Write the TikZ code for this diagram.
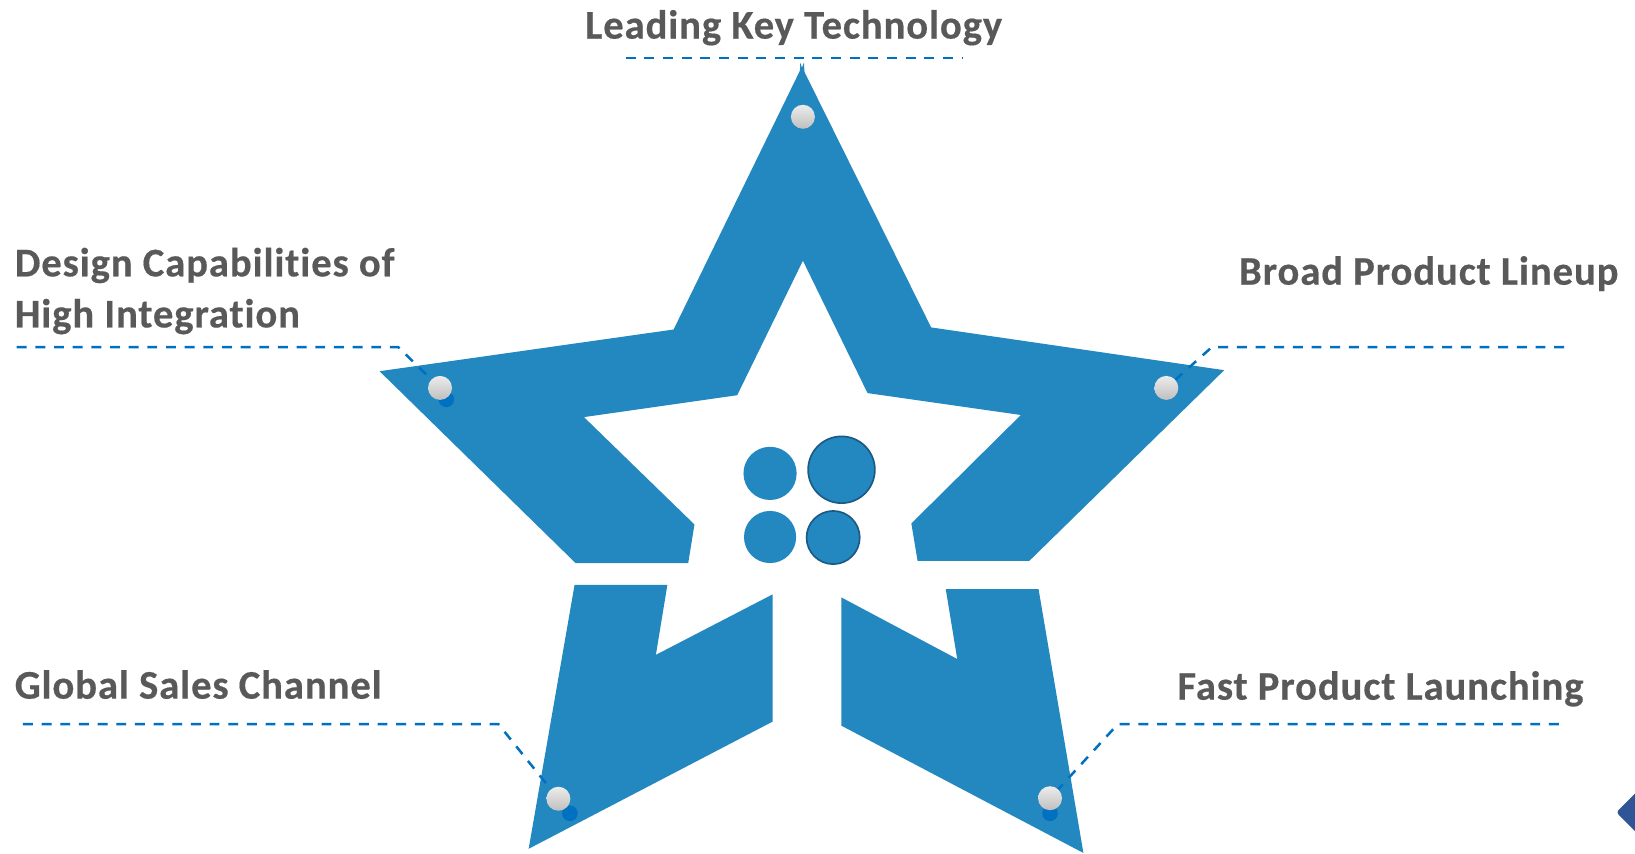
\documentclass[tikz,border=0pt]{standalone}
\usepackage{fontspec}
\setmainfont[LetterSpace=2.2,Ligatures=NoCommon,BoldFeatures={FakeBold=0.4}]{Carlito}
\definecolor{starblue}{HTML}{2288BF}
\definecolor{linkblue}{HTML}{0070C0}
\definecolor{ringblue}{HTML}{1B5A86}
\definecolor{labelgrey}{HTML}{595959}
\definecolor{tagblue}{HTML}{2F5597}
\tikzset{
  starpart/.style={fill=starblue,draw=none},
  blob/.style={circle,fill=starblue,draw=none,inner sep=0pt,minimum size=#1},
  ringblob/.style={circle,fill=starblue,draw=ringblue,line width=1.6pt,inner sep=0pt,minimum size=#1},
  leader/.style={draw=linkblue,line width=2.4pt,dash pattern=on 9.5pt off 8.4pt},
  pearl/.style={circle,inner sep=0pt,minimum size=23pt,top color=gray!15,bottom color=gray!50,draw=none},
  under/.style={circle,inner sep=0pt,minimum size=15pt,fill=linkblue,draw=none},
  caption/.style={font=\fontsize{39}{49}\selectfont\bfseries,text=labelgrey,inner sep=0pt,align=left}
}
\begin{document}
\begin{tikzpicture}[x=1pt,y=-1pt]
\useasboundingbox (0,0) rectangle (1568,819);
\fill[white] (0,0) rectangle (1568,819);
% star
\fill[starpart] (769,64) -- (893,314) -- (1174,355) -- (987,538) -- (880,538) -- (874,502) -- (979,398) -- (832,377) -- (770,250) -- (707,379) -- (560,400) -- (666,503) -- (660,540) -- (552,540) -- (364,356) -- (646,316) -- cycle;
\fill[starpart] (767.5,60) -- (769,65) -- (771,60) -- (771.5,70) -- (767,70) -- cycle;
\fill[starpart] (551,561) -- (640,561) -- (629,628) -- (741,570) -- (741,692) -- (507,814) -- cycle;
\fill[starpart] (907,565) -- (996,565) -- (1039,818) -- (807,696) -- (807,573) -- (918,632) -- cycle;
% inner circles
\node[blob=51pt] (c1) at (738.5,454) {};
\node[blob=50pt] (c2) at (738.5,515) {};
\node[ringblob=64pt] (c3) at (807,450.5) {};
\node[ringblob=51pt] (c4) at (799,515.5) {};
% right-edge tag
\fill[tagblue,rounded corners=3pt] (1550,779) -- (1590,739) -- (1630,779) -- (1590,819) -- cycle;
% dots
\node[under] (d1) at (428,383) {};
\node[under] (d2) at (546.5,780) {};
\node[under] (d3) at (1007,780) {};
% connector corners
\coordinate (t1) at (600,55.5);
\coordinate (t2) at (923,55.5);
\coordinate (l1) at (16,333);
\coordinate (l2) at (382,333);
\coordinate (r1) at (1500,333);
\coordinate (r2) at (1162,333);
\coordinate (b1) at (22,694.5);
\coordinate (b2) at (478,694.5);
\coordinate (f1) at (1495,694.5);
\coordinate (f2) at (1072,694.5);
% pearls
\node[pearl] (p0) at (770,112) {};
\node[pearl] (p1) at (422,372) {};
\node[pearl] (p2) at (1118.5,372) {};
\node[pearl] (p3) at (535.5,766) {};
\node[pearl] (p4) at (1007,765.5) {};
% connectors
\draw[leader] (t1) -- (t2);
\draw[leader] (l1) -- (l2) -- (p1);
\draw[leader] (r1) -- (r2) -- (p2);
\draw[leader] (b1) -- (b2) -- (p3);
\draw[leader] (f1) -- (f2) -- (p4);
% labels
\node[caption,anchor=base west] (n0) at (561,37) {Leading Key Technology};
\node[caption,anchor=base west] (n1) at (14,265) {Design Capabilities of};
\node[caption,anchor=base west] (n1b) at (14,314) {High Integration};
\node[caption,anchor=base west] (n2) at (1188,273) {Broad Product Lineup};
\node[caption,anchor=base west] (n3) at (14,670) {Global Sales Channel};
\node[caption,anchor=base west] (n4) at (1129,671) {Fast Product Launching};
\end{tikzpicture}
\end{document}
